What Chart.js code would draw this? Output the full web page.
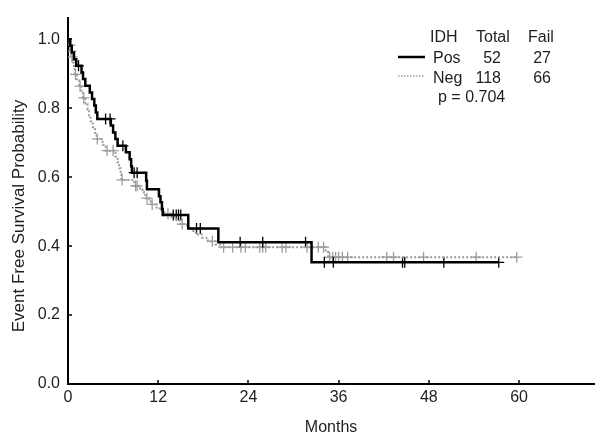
<!DOCTYPE html>
<html>
<head>
<meta charset="utf-8">
<script src="https://cdn.jsdelivr.net/npm/chart.js@4"></script>
<style>
  html, body { margin: 0; padding: 0; background: #fff; }
</style>
</head>
<body>
<canvas id="kmChart" width="601" height="443"></canvas>
<script>
// IDH Pos: step times (months) and survival after each step, last point = last follow-up
const posTimes = [0, 0.3, 0.5, 0.8, 1.1, 1.8, 2.0, 2.3, 2.9, 3.2, 3.5, 3.7, 3.9, 5.7, 6.0, 6.3, 6.6, 7.7, 8.2, 8.4, 8.5, 10.4, 10.5, 12.1, 12.3, 12.5, 12.6, 16.0, 20.0, 32.4, 57.3];
const posSurv  = [1.0, 0.981, 0.962, 0.942, 0.923, 0.904, 0.885, 0.865, 0.846, 0.827, 0.808, 0.788, 0.769, 0.750, 0.730, 0.711, 0.691, 0.672, 0.652, 0.632, 0.613, 0.590, 0.565, 0.545, 0.527, 0.508, 0.490, 0.451, 0.411, 0.353, 0.353];
const posCensor = [1.4, 5.0, 5.6, 7.3, 8.8, 9.2, 14.0, 14.4, 14.7, 15.0, 17.1, 17.6, 22.9, 25.9, 31.6, 34.1, 35.3, 44.5, 44.8, 50.0, 57.3];

// IDH Neg
const negTimes = [0, 0.2, 0.3, 0.5, 0.6, 0.8, 0.9, 1.2, 1.5, 1.8, 2.0, 2.3, 2.6, 2.8, 3.0, 3.3, 3.6, 3.8, 4.6, 5.0, 6.3, 6.6, 6.8, 7.0, 7.1, 8.8, 9.6, 9.9, 10.1, 10.3, 10.8, 11.0, 11.8, 12.2, 12.8, 13.8, 14.5, 14.9, 15.8, 16.4, 17.0, 17.8, 18.6, 19.6, 20.2, 34.3, 34.6, 59.7];
const negSurv  = [1.0, 0.983, 0.966, 0.949, 0.932, 0.915, 0.898, 0.881, 0.864, 0.847, 0.830, 0.813, 0.796, 0.779, 0.762, 0.745, 0.728, 0.711, 0.694, 0.677, 0.660, 0.643, 0.626, 0.609, 0.592, 0.575, 0.566, 0.557, 0.548, 0.539, 0.530, 0.521, 0.512, 0.503, 0.494, 0.484, 0.474, 0.464, 0.454, 0.444, 0.434, 0.424, 0.414, 0.405, 0.397, 0.383, 0.368, 0.368];
const negCensor = [0.25, 0.4, 0.55, 1.0, 1.6, 2.1, 3.9, 5.2, 6.0, 7.2, 9.0, 9.2, 10.5, 11.2, 13.3, 15.2, 19.2, 20.7, 21.9, 23.0, 23.6, 25.5, 25.9, 26.3, 28.5, 29.0, 31.8, 33.3, 34.0, 34.8, 35.2, 35.6, 36.0, 36.5, 37.2, 42.4, 43.3, 47.3, 54.3, 59.7];

const xTicks = [0, 12, 24, 36, 48, 60];
const yTicks = [0, 0.2, 0.4, 0.6, 0.8, 1.0];

const legendHeader = ['IDH', 'Total', 'Fail'];
const legendGroups = ['Pos', 'Neg'];
const legendTotals = ['52', '118'];
const legendFails = ['27', '66'];
const pText = 'p = 0.704';
const yTitle = 'Event Free Survival Probability';

const FONT = 'Liberation Sans, Arial, sans-serif';
const TEXT = '#1e1e1e';
const GREY = '#9c9c9c';

function stepAt(times, surv, t) {
    let s = surv[0];
    for (let i = 0; i < times.length; i++) {
        if (times[i] <= t) s = surv[i];
    }
    return s;
}

const posLine = posTimes.map((t, i) => ({ x: t, y: posSurv[i] }));
const negLine = negTimes.map((t, i) => ({ x: t, y: negSurv[i] }));
const posMarks = posCensor.map(t => ({ x: t, y: stepAt(posTimes, posSurv, t) }));
const negMarks = negCensor.map(t => ({ x: t, y: stepAt(negTimes, negSurv, t) }));

// small inward tick marks on both axes
const innerTicks = {
    id: 'innerTicks',
    afterDraw(chart) {
        const { ctx, chartArea, scales } = chart;
        ctx.save();
        ctx.strokeStyle = '#000';
        ctx.lineWidth = 1.5;
        xTicks.forEach(v => {
            const px = Math.round(scales.x.getPixelForValue(v));
            ctx.beginPath();
            ctx.moveTo(px, chartArea.bottom);
            ctx.lineTo(px, chartArea.bottom - 4);
            ctx.stroke();
        });
        yTicks.forEach(v => {
            const py = Math.round(scales.y.getPixelForValue(v));
            ctx.beginPath();
            ctx.moveTo(chartArea.left, py);
            ctx.lineTo(chartArea.left + 4, py);
            ctx.stroke();
        });
        ctx.restore();
    }
};

// y axis title, sits a bit below the middle of the plot in the original
const sideTitle = {
    id: 'sideTitle',
    afterDraw(chart) {
        const ctx = chart.ctx;
        ctx.save();
        ctx.translate(19, 216);
        ctx.rotate(-Math.PI / 2);
        ctx.font = '17px ' + FONT;
        ctx.fillStyle = TEXT;
        ctx.textAlign = 'center';
        ctx.textBaseline = 'middle';
        ctx.fillText(yTitle, 0, 0);
        ctx.restore();
    }
};

// the little table legend in the upper right
const tableLegend = {
    id: 'tableLegend',
    afterDraw(chart) {
        const ctx = chart.ctx;
        ctx.save();
        ctx.font = '16px ' + FONT;
        ctx.fillStyle = TEXT;
        ctx.textBaseline = 'alphabetic';
        ctx.textAlign = 'left';
        ctx.fillText(legendHeader[0], 430, 42);
        ctx.fillText(legendHeader[1], 476, 42);
        ctx.fillText(legendHeader[2], 528, 42);

        const rowY = [63, 83];
        legendGroups.forEach((g, i) => {
            ctx.textAlign = 'left';
            ctx.fillText(g, 433, rowY[i]);
            ctx.textAlign = 'right';
            ctx.fillText(legendTotals[i], 501, rowY[i]);
            ctx.fillText(legendFails[i], 551, rowY[i]);
        });

        ctx.beginPath();
        ctx.strokeStyle = '#000';
        ctx.lineWidth = 2.5;
        ctx.moveTo(398, 57);
        ctx.lineTo(425, 57);
        ctx.stroke();

        ctx.beginPath();
        ctx.strokeStyle = GREY;
        ctx.lineWidth = 1.5;
        ctx.setLineDash([1.5, 1.5]);
        ctx.moveTo(398, 76);
        ctx.lineTo(425, 76);
        ctx.stroke();
        ctx.setLineDash([]);

        ctx.textAlign = 'left';
        ctx.fillText(pText, 438, 102);
        ctx.restore();
    }
};

const tickFont = { family: FONT, size: 16 };
const titleFont = { family: FONT, size: 16 };

const chart = new Chart(document.getElementById('kmChart').getContext('2d'), {
    type: 'line',
    data: {
        datasets: [
            {
                label: 'Pos',
                data: posLine,
                stepped: true,
                borderColor: '#000',
                borderWidth: 2.5,
                pointRadius: 0,
                fill: false
            },
            {
                label: 'Neg',
                data: negLine,
                stepped: true,
                borderColor: GREY,
                borderWidth: 2,
                borderDash: [2, 2],
                pointRadius: 0,
                fill: false
            },
            {
                label: 'Pos censored',
                data: posMarks,
                showLine: false,
                pointStyle: 'cross',
                pointRadius: 5.5,
                pointBorderWidth: 1.3,
                pointBorderColor: '#000'
            },
            {
                label: 'Neg censored',
                data: negMarks,
                showLine: false,
                pointStyle: 'cross',
                pointRadius: 5.5,
                pointBorderWidth: 1.3,
                pointBorderColor: GREY
            }
        ]
    },
    options: {
        responsive: false,
        animation: false,
        layout: { padding: { top: 12, right: 6, left: 0, bottom: 0 } },
        plugins: {
            legend: { display: false },
            tooltip: { enabled: false }
        },
        scales: {
            x: {
                type: 'linear',
                min: 0,
                max: 70,
                afterBuildTicks: s => { s.ticks = xTicks.map(v => ({ value: v })); },
                afterFit: s => { s.height = 59; },
                grid: { drawOnChartArea: false, drawTicks: false },
                border: { color: '#000', width: 2 },
                ticks: { font: tickFont, color: TEXT, padding: 4, maxRotation: 0, autoSkip: false },
                title: { display: true, text: 'Months', font: titleFont, color: TEXT, padding: { top: 0, bottom: 6 } }
            },
            y: {
                min: 0,
                max: 1.063,
                afterBuildTicks: s => { s.ticks = yTicks.map(v => ({ value: v })); },
                afterFit: s => { s.width = 68; },
                grid: { drawOnChartArea: false, drawTicks: false },
                border: { color: '#000', width: 2 },
                ticks: { font: tickFont, color: TEXT, padding: 8, callback: v => v.toFixed(1) },
                title: { display: false }
            }
        }
    },
    plugins: [innerTicks, sideTitle, tableLegend]
});
</script>
</body>
</html>
